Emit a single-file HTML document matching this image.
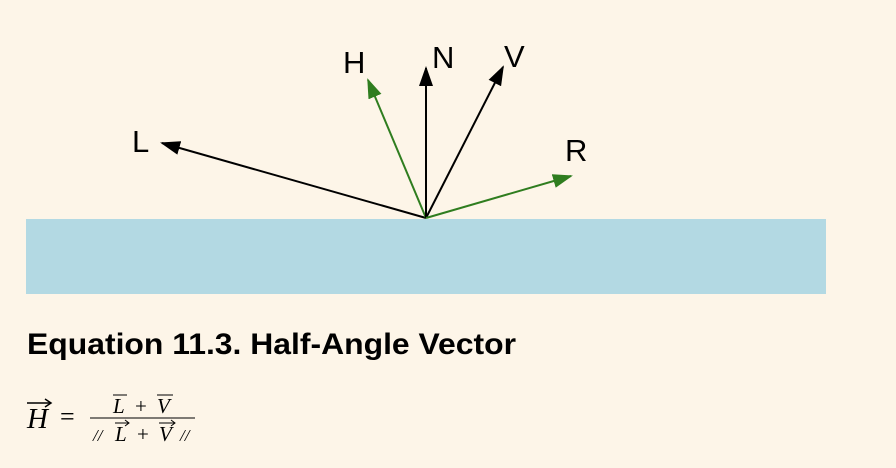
<!DOCTYPE html>
<html><head><meta charset="utf-8"><style>
body{margin:0;background:#fdf5e8;width:896px;height:468px;overflow:hidden;font-family:"Liberation Sans",sans-serif;}
svg{position:absolute;left:0;top:0}
</style></head><body>
<svg width="896" height="468">
<defs>
<marker id="ab" markerWidth="20" markerHeight="14" refX="18" refY="7" orient="auto" markerUnits="userSpaceOnUse" viewBox="0 0 20 14"><path d="M0,0 L20,7 L0,14 z" fill="#000"/></marker>
<marker id="ag" markerWidth="20" markerHeight="14" refX="18" refY="7" orient="auto" markerUnits="userSpaceOnUse" viewBox="0 0 20 14"><path d="M0,0 L20,7 L0,14 z" fill="#2f7d1f"/></marker>
</defs>
<rect x="26" y="219" width="800" height="75" fill="#b3d9e3"/>
<g stroke-width="2">
<line x1="426" y1="218" x2="162" y2="143" stroke="#000" marker-end="url(#ab)"/>
<line x1="426" y1="218" x2="368" y2="80" stroke="#2f7d1f" marker-end="url(#ag)"/>
<line x1="426" y1="218" x2="426" y2="68" stroke="#000" marker-end="url(#ab)"/>
<line x1="426" y1="218" x2="503" y2="67" stroke="#000" marker-end="url(#ab)"/>
<line x1="426" y1="218" x2="571" y2="176" stroke="#2f7d1f" marker-end="url(#ag)"/>
</g>
<g font-family="Liberation Sans, sans-serif" font-size="31" fill="#000">
<text x="132" y="152">L</text>
<text x="343" y="73">H</text>
<text x="432" y="68">N</text>
<text x="504" y="67">V</text>
<text x="565" y="161">R</text>
</g>
<text x="27" y="354" font-family="Liberation Sans, sans-serif" font-weight="bold" font-size="30" textLength="489" lengthAdjust="spacingAndGlyphs">Equation 11.3. Half-Angle Vector</text>
<g font-family="Liberation Serif, serif" fill="#000">
<text x="27" y="428" font-size="29" font-style="italic">H</text>
<line x1="27" y1="403" x2="50" y2="403" stroke="#000" stroke-width="1.5"/>
<path d="M45,399 L51,403 L45,407" fill="none" stroke="#000" stroke-width="1.5"/>
<text x="60" y="425" font-size="26">=</text>
<text x="113" y="413" font-size="21" font-style="italic">L</text>
<line x1="113" y1="395" x2="127" y2="395" stroke="#000" stroke-width="1"/>
<text x="135" y="413" font-size="21">+</text>
<text x="157" y="413" font-size="21" font-style="italic">V</text>
<line x1="157" y1="395" x2="173" y2="395" stroke="#000" stroke-width="1"/>
<line x1="90" y1="418" x2="195" y2="418" stroke="#000" stroke-width="1"/>
<text x="93" y="441" font-size="17" font-style="italic">//</text>
<text x="115" y="441" font-size="21" font-style="italic">L</text>
<line x1="115" y1="423" x2="129" y2="423" stroke="#000" stroke-width="1"/>
<path d="M125,420 L129,423 L125,426" fill="none" stroke="#000" stroke-width="1"/>
<text x="137" y="441" font-size="21">+</text>
<text x="159" y="441" font-size="21" font-style="italic">V</text>
<line x1="159" y1="423" x2="175" y2="423" stroke="#000" stroke-width="1"/>
<path d="M171,420 L175,423 L171,426" fill="none" stroke="#000" stroke-width="1"/>
<text x="180" y="441" font-size="17" font-style="italic">//</text>
</g>
</svg>
</body></html>
